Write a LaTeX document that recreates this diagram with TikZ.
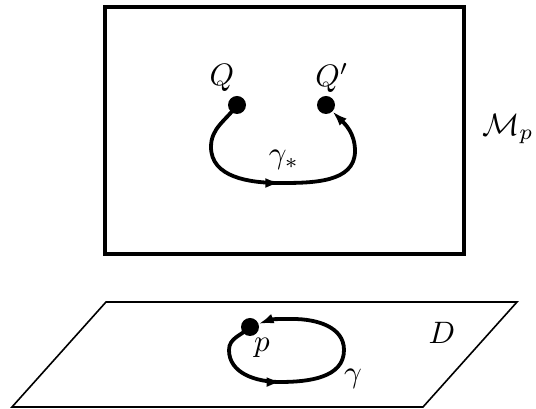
\documentclass[tikz,border=0pt]{standalone}
\usetikzlibrary{arrows.meta,decorations.markings}
\begin{document}
\begin{tikzpicture}[x=1pt,y=1pt,
  dotnode/.style={circle,fill=black,inner sep=0pt,minimum size=18pt},
  lbl/.style={inner sep=1pt,scale=3.1,transform shape},
  curve/.style={line width=3.8pt,
    postaction={decorate},
    decoration={markings,mark=at position #1 with {\arrow{Latex[length=15pt,width=10pt]}}}},
  endtip/.style={-{Latex[length=15pt,width=10pt]}}]
\useasboundingbox (0,0) rectangle (536,409);
% upper frame
\draw[line width=3.6pt] (105,402) rectangle (464,155);
\node[dotnode] (Qd) at (237,304) {};
\node[dotnode] (Qpd) at (326,304) {};
\node[lbl] (Ql) at (222,331) {$Q$};
\node[lbl] (Qpl) at (332,331) {$Q'$};
\coordinate (L) at (211,262);
\coordinate (B) at (280,226);
\coordinate (R) at (355,258);
\draw[curve=0.5,endtip] (Qd.center) to[out=235,in=90] (L) to[out=-90,in=180] (B)
   to[out=0,in=-90] (R) to[out=90,in=-45] (Qpd);
\node[lbl] (gs) at (284,249) {$\gamma_*$};
\node[lbl] (Mp) at (508,280) {$\mathcal{M}_p$};
% lower plane
\draw[line width=1.6pt,line join=miter] (106,107) coordinate (P1) -- (517,107) coordinate (P2)
   -- (423,2) coordinate (P3) -- (12,2) coordinate (P4) -- cycle;
\node[dotnode] (pd) at (250,82) {};
\coordinate (Lt) at (229,59);
\coordinate (Bt) at (280,27);
\coordinate (Rt) at (344,59);
\coordinate (Tt) at (293,90);
\draw[curve=0.36,endtip] (pd.center) to[out=225,in=90] (Lt) to[out=-90,in=180] (Bt)
   to[out=0,in=-90] (Rt) to[out=90,in=0] (Tt) to[out=180,in=20] (pd);
\node[lbl] (pl) at (262,61) {$p$};
\node[lbl] (gl) at (353,30) {$\gamma$};
\node[lbl] (Dl) at (442,76) {$D$};
\end{tikzpicture}
\end{document}
